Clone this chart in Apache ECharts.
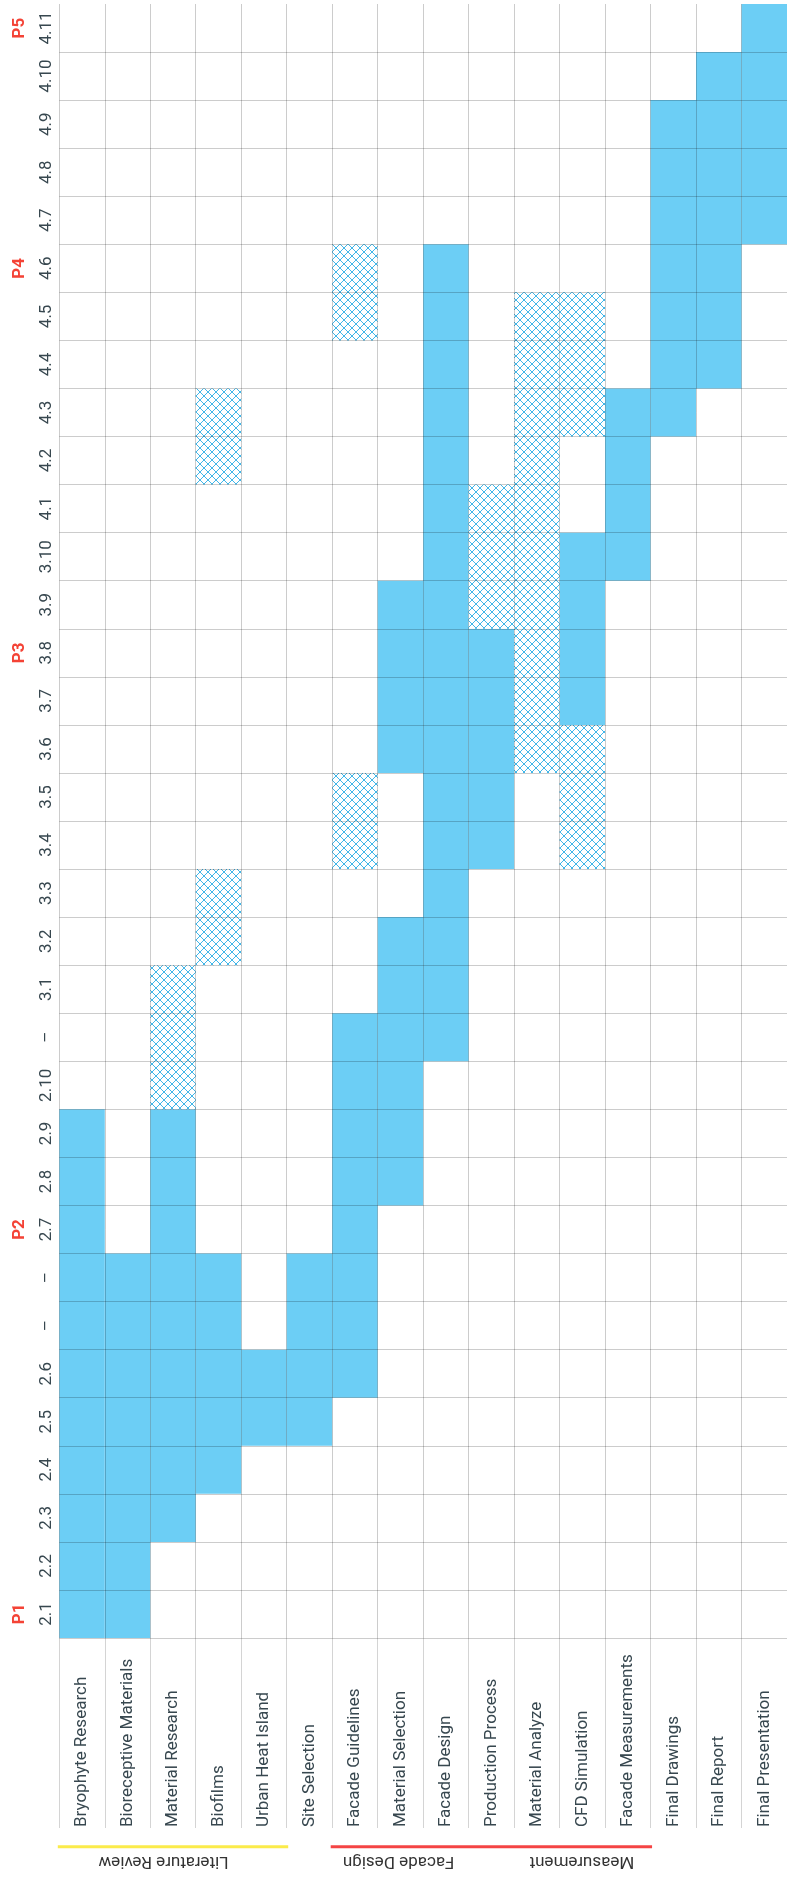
<!DOCTYPE html>
<html><head><meta charset="utf-8">
<script src="https://cdn.jsdelivr.net/npm/echarts@6/dist/echarts.min.js"></script>
<style>html,body{margin:0;padding:0;overflow:hidden;background:#fff}#c{width:787px;height:1879px}</style>
</head><body><div id="c"></div>
<script>
// ---- data ----
const tasks = ['Bryophyte Research','Bioreceptive Materials','Material Research','Biofilms','Urban Heat Island','Site Selection','Facade Guidelines','Material Selection','Facade Design','Production Process','Material Analyze','CFD Simulation','Facade Measurements','Final Drawings','Final Report','Final Presentation'];
const weeks = ['2.1','2.2','2.3','2.4','2.5','2.6','–','–','2.7','2.8','2.9','2.10','–','3.1','3.2','3.3','3.4','3.5','3.6','3.7','3.8','3.9','3.10','4.1','4.2','4.3','4.4','4.5','4.6','4.7','4.8','4.9','4.10','4.11'];
const phaseNames = ['P1','P2','P3','P4','P5'];
const phaseWeeks = ['2.1','2.7','3.8','4.6','4.11'];
// [task index, first week index, last week index]
const solidSpans = [[0,0,10],[1,0,7],[2,2,10],[3,3,7],[4,4,5],[5,4,7],[6,5,12],[7,9,14],[7,18,21],[8,12,28],[9,16,20],[11,19,22],[12,22,25],[13,25,31],[14,26,32],[15,29,33]];
const hatchSpans = [[2,11,13],[3,14,15],[3,24,25],[6,16,17],[6,27,28],[9,21,23],[10,18,27],[11,16,18],[11,25,27]];
const groupNames = ['Literature Review','Facade Design','Measurement'];
const groupBarSpans = [[0,4],[6,12]];

// ---- layout / style ----
const groupLabelCols = [2.29, 7.46, 11.49];
const groupBarColors = ['#fbeb4a','#f44444'];
const BLUE = '#6ccef5', HATCH = '#2aaee6', TXT = '#37474f', RED = '#f44336';
const FONT = 'Roboto';

const pc = document.createElement('canvas'); pc.width = 8; pc.height = 8;
const g = pc.getContext('2d');
g.fillStyle = '#fff'; g.fillRect(0,0,8,8);
g.strokeStyle = HATCH; g.lineWidth = 0.9;
g.beginPath(); g.moveTo(-2,-2); g.lineTo(10,10); g.moveTo(-2,10); g.lineTo(10,-2); g.stroke();
const hatchFill = {image: pc, repeat: 'repeat'};

const phaseAxis = weeks.map((w, i) => { const k = phaseWeeks.indexOf(w); return k >= 0 && weeks.indexOf(w) === i ? phaseNames[k] : ''; });

function makeRender(fill) {
  return function (params, api) {
    const t = api.value(0), s = api.value(1), e = api.value(2);
    const p0 = api.coord([t, s]), p1 = api.coord([t, e]);
    const sz = api.size([1, 1]);
    return {type: 'rect', shape: {x: p0[0] - sz[0] / 2, y: p1[1] - sz[1] / 2, width: sz[0], height: p0[1] - p1[1] + sz[1]}, style: {fill: fill}};
  };
}

const chart = echarts.init(document.getElementById('c'), null, {renderer: 'canvas'});
const gridLine = 'rgba(0,0,0,0.2)';
chart.setOption({
  animation: false,
  backgroundColor: '#fff',
  grid: {left: 59.3, top: 4, width: 736, height: 1634, containLabel: false},
  xAxis: {
    type: 'category', data: tasks, position: 'bottom', z: 10,
    axisLine: {show: false},
    axisTick: {show: true, interval: 0, length: 190, lineStyle: {color: 'rgba(0,0,0,0.17)'}},
    axisLabel: {interval: 0, rotate: 90, align: 'left', verticalAlign: 'middle', margin: 189, fontSize: 17, fontFamily: FONT, color: TXT},
    splitLine: {show: true, interval: 0, lineStyle: {color: gridLine}}
  },
  yAxis: [{
    type: 'category', data: weeks, z: 10,
    axisLine: {show: false}, axisTick: {show: false},
    axisLabel: {interval: 0, rotate: 90, margin: 4, fontSize: 17, fontFamily: FONT, color: TXT},
    splitLine: {show: true, interval: 0, showMaxLine: false, lineStyle: {color: gridLine}}
  }, {
    type: 'category', data: phaseAxis, position: 'left', z: 10,
    axisLine: {show: false}, axisTick: {show: false}, splitLine: {show: false},
    axisLabel: {interval: 0, rotate: 90, margin: 31, fontSize: 17, fontWeight: 'bold', fontFamily: FONT, color: RED}
  }],
  series: [
    {type: 'custom', name: 'Work', xAxisIndex: 0, yAxisIndex: 0, renderItem: makeRender(BLUE), data: solidSpans, encode: {x: 0, y: [1, 2]}},
    {type: 'custom', name: 'Optional', xAxisIndex: 0, yAxisIndex: 0, renderItem: makeRender(hatchFill), data: hatchSpans, encode: {x: 0, y: [1, 2]}}
  ]
});

const c0 = chart.convertToPixel({xAxisIndex: 0}, 0);
const c1 = chart.convertToPixel({xAxisIndex: 0}, 1);
const bw = c1 - c0;
const left = c0 - bw / 2;
const colX = p => left + p * bw;
const LINE_Y = 1846.7, TEXT_Y = 1861;
const graphics = [];
groupBarSpans.forEach((s, i) => {
  graphics.push({type: 'line', shape: {x1: colX(s[0]) - 1.5, y1: LINE_Y, x2: colX(s[1] + 1) + 1.5, y2: LINE_Y}, style: {stroke: groupBarColors[i], lineWidth: 3}});
});
groupNames.forEach((n, i) => {
  graphics.push({type: 'text', x: colX(groupLabelCols[i]), y: TEXT_Y, rotation: Math.PI, style: {text: n, fontSize: 17, fontFamily: FONT, fill: '#333', align: 'center', verticalAlign: 'middle'}});
});
chart.setOption({graphic: graphics});
</script></body></html>
